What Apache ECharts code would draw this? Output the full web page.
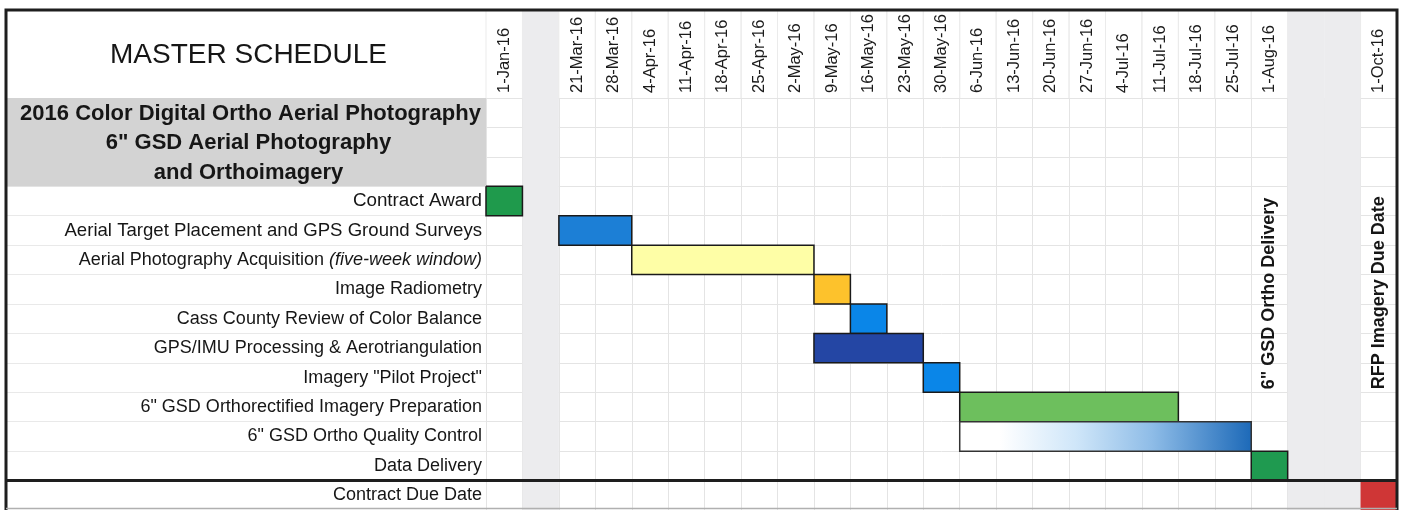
<!DOCTYPE html>
<html>
<head>
<meta charset="utf-8">
<title>Master Schedule</title>
<script src="https://cdn.jsdelivr.net/npm/echarts@6/dist/echarts.min.js"></script>
<style>
  html, body { margin: 0; padding: 0; background: #ffffff; }
  #chart { width: 1403px; height: 510px; }
</style>
</head>
<body>
<div id="chart"></div>
<script>
// Week columns across the top; '' marks a skipped (shaded) period
const tickLabels = ['1-Jan-16', '', '21-Mar-16', '28-Mar-16', '4-Apr-16', '11-Apr-16', '18-Apr-16',
  '25-Apr-16', '2-May-16', '9-May-16', '16-May-16', '23-May-16', '30-May-16', '6-Jun-16',
  '13-Jun-16', '20-Jun-16', '27-Jun-16', '4-Jul-16', '11-Jul-16', '18-Jul-16', '25-Jul-16',
  '1-Aug-16', '', '', '1-Oct-16'];

const titleLines = ['2016 Color Digital Ortho Aerial Photography', '6" GSD Aerial Photography', 'and Orthoimagery'];

const tasks = [
  'Contract Award',
  'Aerial Target Placement and GPS Ground Surveys',
  'Aerial Photography Acquisition (five-week window)',
  'Image Radiometry',
  'Cass County Review of Color Balance',
  'GPS/IMU Processing & Aerotriangulation',
  'Imagery "Pilot Project"',
  '6" GSD Orthorectified Imagery Preparation',
  '6" GSD Ortho Quality Control',
  'Data Delivery',
  'Contract Due Date'
];
// first week of each task and its length in weeks
const taskStart = ['1-Jan-16', '21-Mar-16', '4-Apr-16', '9-May-16', '16-May-16', '9-May-16',
  '30-May-16', '6-Jun-16', '6-Jun-16', '1-Aug-16', '1-Oct-16'];
const taskWeeks = [1, 2, 5, 1, 1, 3, 1, 6, 8, 1, 1];

const milestoneLabels = ['6" GSD Ortho Delivery', 'RFP Imagery Due Date'];
const milestoneDates = ['1-Aug-16', '1-Oct-16'];

// ---------------------------------------------------------------------------
const FONT = '"Liberation Sans", Arial, Helvetica, sans-serif';
const FRAME_TOP = 10;
const ROW_H = 29.6;
const INK = '#161616';

const rows = titleLines.map(() => '').concat(tasks);
const slotOf = d => tickLabels.indexOf(d);
const dueRow = rows.length - 1;
const labelFloorRow = titleLines.length + 7;   // vertical milestone notes sit above this row

// a couple of row labels are set in a slightly larger face
const wideLabels = { 'Contract Award': 'w', 'Aerial Target Placement and GPS Ground Surveys': 'v' };

const barFill = [
  '#1f9a4c', '#1c7fd6', '#fefea6', '#fdc22c', '#0a86e8', '#2446a4', '#0a86e8', '#6dbf5d',
  new echarts.graphic.LinearGradient(0, 0, 1, 0, [
    { offset: 0, color: '#ffffff' },
    { offset: 0.14, color: '#ffffff' },
    { offset: 0.40, color: '#cfe6f9' },
    { offset: 0.66, color: '#8ebce7' },
    { offset: 1, color: '#1c69b8' }
  ]),
  '#1f9a50', '#cf3636'
];
const barStroke = ['#1a1a1a', '#1a1a1a', '#1a1a1a', '#1a1a1a', '#1a1a1a', '#1a1a1a', '#1a1a1a',
  '#1a1a1a', '#333333', '#1a1a1a', null];

const barData = tasks.map((t, i) => {
  const s = slotOf(taskStart[i]);
  return [s, s + taskWeeks[i] - 1, i + titleLines.length, i];
});

function separator(params, api) {
  const cs = params.coordSys;
  const y = api.coord([0, dueRow])[1] - api.size([0, 1])[1] / 2;
  return {
    type: 'line',
    shape: { x1: cs.x - 1, y1: y, x2: cs.x + cs.width + 1, y2: y },
    style: { stroke: '#1e1e1e', lineWidth: 3 }
  };
}

const chart = echarts.init(document.getElementById('chart'));

chart.setOption({
  animation: false,
  backgroundColor: '#ffffff',
  grid: [
    { left: 7, top: 98, width: 479, height: rows.length * ROW_H },
    { left: 486, top: 98, width: 911, height: rows.length * ROW_H }
  ],
  xAxis: [
    { gridIndex: 0, type: 'value', min: 0, max: 1, show: false },
    {
      gridIndex: 1, type: 'category', data: tickLabels, position: 'top',
      axisLine: { show: false }, axisTick: { show: false },
      axisLabel: { interval: 0, rotate: -90, margin: 5, fontSize: 16.5, fontFamily: FONT, color: '#1b1b1b' },
      splitLine: { show: true, interval: 0, lineStyle: { color: '#e4e4e4', width: 1 } }
    }
  ],
  yAxis: [
    {
      gridIndex: 0, type: 'category', data: rows, inverse: true, position: 'right',
      axisLine: { show: false }, axisTick: { show: false },
      axisLabel: {
        inside: true, interval: 0, margin: 4, fontSize: 18, fontFamily: FONT, color: INK,
        formatter: v => {
          if (wideLabels[v]) return '{' + wideLabels[v] + '|' + v + '}';
          const k = v.indexOf('(');
          return k > 0 ? '{n|' + v.slice(0, k) + '}{i|' + v.slice(k) + '}' : v;
        },
        rich: {
          n: { fontSize: 18, fontFamily: FONT, color: INK },
          i: { fontSize: 18, fontFamily: FONT, color: INK, fontStyle: 'italic' },
          w: { fontSize: 18.8, fontFamily: FONT, color: INK },
          v: { fontSize: 18.6, fontFamily: FONT, color: INK }
        }
      },
      splitLine: { show: true, interval: 0, lineStyle: { color: '#e9e9e9', width: 1 } }
    },
    {
      gridIndex: 1, type: 'category', data: rows, inverse: true,
      axisLine: { show: false }, axisTick: { show: false }, axisLabel: { show: false },
      splitLine: { show: true, interval: 0, lineStyle: { color: '#e4e4e4', width: 1 } }
    }
  ],
  series: [
    // shaded gap columns and the faint column rules in the header
    {
      type: 'custom', xAxisIndex: 1, yAxisIndex: 1, clip: false, silent: true,
      data: tickLabels.map((t, i) => [i, 0]),
      renderItem: (params, api) => {
        const cs = params.coordSys;
        const slot = api.value(0);
        const bw = api.size([1, 0])[0];
        const x0 = api.coord([slot, 0])[0] - bw / 2;
        if (tickLabels[slot] === '') {
          return {
            type: 'rect',
            shape: { x: x0, y: FRAME_TOP, width: bw, height: cs.y + cs.height - FRAME_TOP },
            style: { fill: '#ececee' }
          };
        }
        return {
          type: 'group',
          children: [
            { type: 'line', shape: { x1: x0, y1: FRAME_TOP, x2: x0, y2: cs.y }, style: { stroke: '#ebebeb', lineWidth: 1 } },
            { type: 'line', shape: { x1: x0 + bw, y1: FRAME_TOP, x2: x0 + bw, y2: cs.y }, style: { stroke: '#ebebeb', lineWidth: 1 } }
          ]
        };
      }
    },
    // task bars
    {
      type: 'custom', xAxisIndex: 1, yAxisIndex: 1, clip: false,
      data: barData,
      renderItem: (params, api) => {
        const a = api.coord([api.value(0), api.value(2)]);
        const b = api.coord([api.value(1), api.value(2)]);
        const sz = api.size([1, 1]);
        const k = api.value(3);
        const style = { fill: barFill[k] };
        if (barStroke[k]) { style.stroke = barStroke[k]; style.lineWidth = 1.5; }
        return {
          type: 'rect',
          shape: { x: a[0] - sz[0] / 2, y: a[1] - sz[1] / 2, width: b[0] - a[0] + sz[0], height: sz[1] },
          style
        };
      }
    },
    // vertical milestone notes
    {
      type: 'custom', xAxisIndex: 1, yAxisIndex: 1, clip: false, silent: true,
      data: milestoneDates.map((d, i) => [slotOf(d), i]),
      renderItem: (params, api) => {
        const x = api.coord([api.value(0), 0])[0];
        const y = api.coord([0, labelFloorRow])[1] - api.size([0, 1])[1] / 2 - 3;
        return {
          type: 'text', x, y, rotation: Math.PI / 2,
          style: {
            text: milestoneLabels[api.value(1)],
            font: 'bold 18px ' + FONT, fill: INK, align: 'left', verticalAlign: 'middle'
          }
        };
      }
    },
    { type: 'custom', xAxisIndex: 1, yAxisIndex: 1, clip: false, silent: true, data: [[0, 0]], renderItem: separator },
    // heading block in the label column
    {
      type: 'custom', xAxisIndex: 0, yAxisIndex: 0, clip: false, silent: true,
      data: [[0, 0]],
      renderItem: (params, api) => {
        const cs = params.coordSys;
        const bh = api.size([0, 1])[1];
        const top = api.coord([0, 0])[1] - bh / 2;
        const cx = cs.x + cs.width / 2 + 2;
        const children = [
          { type: 'rect', shape: { x: cs.x, y: top, width: cs.width, height: bh * titleLines.length }, style: { fill: '#d3d3d3' } },
          {
            type: 'text', x: cx, y: (FRAME_TOP + top) / 2 + 1,
            style: { text: 'MASTER SCHEDULE', font: '28px ' + FONT, fill: INK, align: 'center', verticalAlign: 'middle' }
          }
        ];
        titleLines.forEach((line, i) => {
          children.push({
            type: 'text', x: cx + (i === 0 ? 2 : 0), y: api.coord([0, i])[1] + 1,
            style: { text: line, font: 'bold 22px ' + FONT, fill: INK, align: 'center', verticalAlign: 'middle' }
          });
        });
        return { type: 'group', children };
      }
    },
    { type: 'custom', xAxisIndex: 0, yAxisIndex: 0, clip: false, silent: true, data: [[0, 0]], renderItem: separator }
  ],
  graphic: [
    {
      type: 'polyline', z: 100, silent: true,
      shape: { points: [[6, 512], [6, FRAME_TOP], [1397, FRAME_TOP], [1397, 512]] },
      style: { stroke: '#1e1e1e', lineWidth: 3, fill: null }
    },
    {
      type: 'line', z: 100, silent: true,
      shape: { x1: 6, y1: 508.5, x2: 1397, y2: 508.5 },
      style: { stroke: '#b0b0b0', lineWidth: 1.5 }
    }
  ]
});
</script>
</body>
</html>
